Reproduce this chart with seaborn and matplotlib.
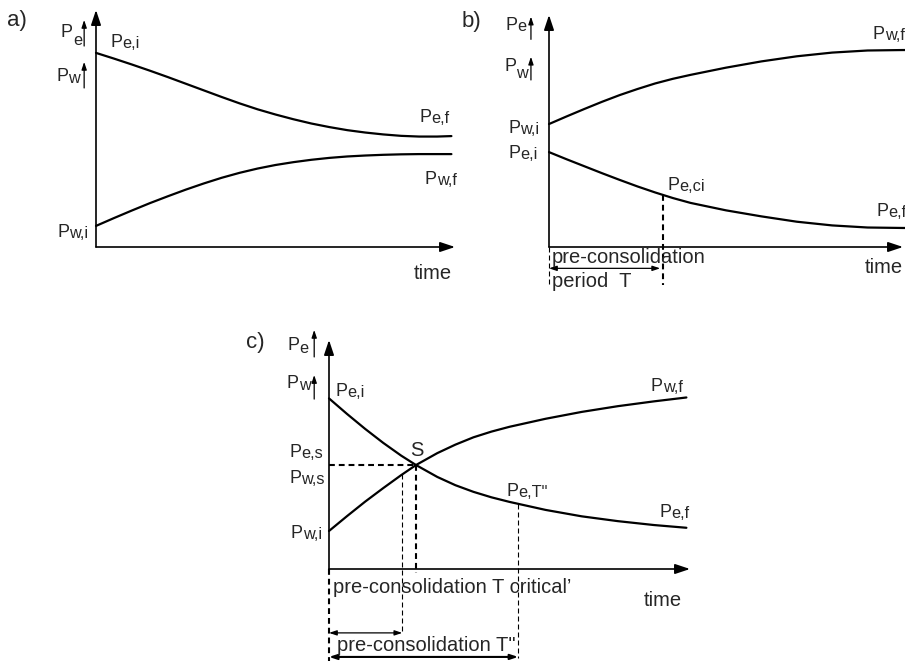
import numpy as np
import matplotlib
matplotlib.use("Agg")
import matplotlib.pyplot as plt
import matplotlib.transforms as mtransforms
import seaborn as sns

# ---- curves (time and pressure in arbitrary units, 0-10) ----
time_a = [0, 0.5, 1, 1.5, 2, 2.5, 3, 3.5, 4, 4.5, 5, 5.5, 6, 6.5, 7, 7.5, 8, 8.5, 9, 9.5, 9.9]
pe_a = [8.19, 7.95, 7.70, 7.44, 7.17, 6.89, 6.61, 6.33, 6.06, 5.81, 5.59, 5.39, 5.21,
        5.06, 4.93, 4.83, 4.75, 4.69, 4.66, 4.66, 4.68]
pw_a = [0.89, 1.22, 1.54, 1.85, 2.14, 2.42, 2.68, 2.92, 3.13, 3.31, 3.46, 3.58, 3.68,
        3.76, 3.82, 3.86, 3.89, 3.91, 3.92, 3.92, 3.92]

time_b = [0, 0.5, 1, 1.5, 2, 2.5, 3, 3.5, 4, 5, 6, 7, 8, 9, 10, 10.1]
pw_b = [5.30, 5.63, 5.95, 6.26, 6.55, 6.81, 7.05, 7.25, 7.42, 7.73, 8.00, 8.22, 8.38,
        8.47, 8.49, 8.49]
pe_b = [4.09, 3.78, 3.48, 3.18, 2.89, 2.61, 2.35, 2.11, 1.90, 1.58, 1.32, 1.09, 0.93,
        0.84, 0.82, 0.82]

time_c = [0, 0.5, 1, 1.5, 2, 2.41, 3, 3.5, 4, 4.5, 5, 6, 7, 8, 9, 9.9]
pe_c = [7.45, 6.77, 6.12, 5.51, 4.95, 4.54, 4.02, 3.66, 3.37, 3.13, 2.93, 2.58, 2.30,
        2.09, 1.92, 1.80]
pw_c = [1.66, 2.31, 2.94, 3.53, 4.10, 4.54, 5.06, 5.43, 5.75, 6.00, 6.21, 6.56, 6.86,
        7.11, 7.32, 7.49]

# marked times
t_ci = 3.22      # b) end of pre-consolidation period T
t_s = 2.41       # c) intersection S
t_short = 2.03   # c) short pre-consolidation
t_long = 5.24    # c) pre-consolidation T''

sns.set_style("white")
plt.rcParams["font.family"] = ["Liberation Sans", "DejaVu Sans"]

W, H = 905, 661
fig = plt.figure(figsize=(W / 100, H / 100), dpi=100)

LW = 1.6
TXT = 14.5
PSZ = 13


def add_panel(left, right, bottom, top):
    ax = fig.add_axes([left / W, 1 - bottom / H, (right - left) / W, (bottom - top) / H])
    axis_kw = dict(arrowstyle="-|>,head_length=0.9,head_width=0.3", color="black",
                   lw=1.2, shrinkA=0, shrinkB=0)
    ax.annotate("", xy=(1, 0), xytext=(0, 0), xycoords="axes fraction", arrowprops=axis_kw)
    ax.annotate("", xy=(0, 1), xytext=(0, 0), xycoords="axes fraction", arrowprops=axis_kw)
    return ax


def finish(ax):
    ax.set_xlim(0, 10)
    ax.set_ylim(0, 10)
    ax.axis("off")


def p_label(ax, t, v, sub, drop=0.8):
    ax.text(t, v, "P", fontsize=PSZ, ha="left", va="baseline")
    tr = mtransforms.offset_copy(ax.transData, fig=fig, x=0.667 * PSZ, y=-drop, units="points")
    ax.text(t, v, sub, fontsize=PSZ * 0.9, ha="left", va="baseline", transform=tr)


def small_arrow(ax, t, v0, v1):
    ax.annotate("", xy=(t, v1), xytext=(t, v0), xycoords="data", annotation_clip=False,
                arrowprops=dict(arrowstyle="-|>,head_length=0.45,head_width=0.15",
                                color="black", lw=0.9, shrinkA=0, shrinkB=0))


def span_arrow(ax, t0, t1, v, lw):
    ax.annotate("", xy=(t1, v), xytext=(t0, v), xycoords="data", annotation_clip=False,
                arrowprops=dict(arrowstyle="<|-|>,head_length=0.45,head_width=0.15",
                                color="black", lw=lw, shrinkA=0, shrinkB=0))


def curve(ax, t, p):
    sns.lineplot(x=t, y=p, ax=ax, color="black", linewidth=LW, clip_on=False)


thick_dash = dict(color="black", lw=1.5, linestyle=(0, (2.8, 1.9)), clip_on=False)
thin_dash = dict(color="black", lw=0.8, linestyle=(0, (4.5, 2.7)), clip_on=False)

# ================= a) =================
ax = add_panel(96, 455, 247, 10)
curve(ax, time_a, pe_a)
curve(ax, time_a, pw_a)
p_label(ax, -0.98, 8.86, "e", drop=5.5)
small_arrow(ax, -0.33, 8.48, 9.58)
p_label(ax, -1.11, 7.01, "w", drop=1.2)
small_arrow(ax, -0.33, 6.71, 7.81)
p_label(ax, 0.39, 8.45, "e,i")
p_label(ax, 9.00, 5.29, "e,f")
p_label(ax, 9.16, 2.66, "w,f")
p_label(ax, -1.08, 0.41, "w,i")
ax.text(8.84, -1.36, "time", fontsize=TXT, va="baseline")
finish(ax)
fig.text(6.7 / W, 1 - 26 / H, "a)", fontsize=16, va="baseline")

# ================= b) =================
ax = add_panel(549, 903, 247, 15)
curve(ax, time_b, pw_b)
curve(ax, time_b, pe_b)
p_label(ax, -1.24, 9.35, "e", drop=0.5)
small_arrow(ax, -0.51, 8.95, 9.93)
p_label(ax, -1.26, 7.60, "w", drop=5.5)
small_arrow(ax, -0.51, 7.20, 8.20)
p_label(ax, -1.15, 4.93, "w,i")
p_label(ax, -1.15, 3.82, "e,i")
p_label(ax, 3.34, 2.46, "e,ci")
p_label(ax, 9.14, 8.95, "w,f")
p_label(ax, 9.24, 1.34, "e,f")
pe_ci = np.interp(t_ci, time_b, pe_b)
ax.plot([t_ci, t_ci], [pe_ci, -1.64], **thick_dash)
ax.plot([0, 0], [0, -1.64], **thin_dash)
span_arrow(ax, 0, t_ci - 0.08, -0.92, 0.9)
ax.text(0.08, -0.70, "pre-consolidation", fontsize=TXT, va="baseline")
ax.text(0.08, -1.71, "period  T", fontsize=TXT, va="baseline")
ax.text(8.93, -1.13, "time", fontsize=TXT, va="baseline")
finish(ax)
fig.text(462 / W, 1 - 27 / H, "b)", fontsize=16, va="baseline")

# ================= c) =================
ax = add_panel(329, 690, 569, 340)
curve(ax, time_c, pe_c)
curve(ax, time_c, pw_c)
p_label(ax, -1.15, 9.56, "e", drop=2.0)
small_arrow(ax, -0.41, 9.26, 10.44)
p_label(ax, -1.17, 7.89, "w", drop=1.5)
small_arrow(ax, -0.41, 7.42, 8.47)
p_label(ax, 0.17, 7.55, "e,i")
p_label(ax, -1.10, 4.90, "e,s")
p_label(ax, -1.10, 3.74, "w,s")
p_label(ax, -1.06, 1.34, "w,i")
p_label(ax, 4.92, 3.19, 'e,T"')
p_label(ax, 8.91, 7.79, "w,f")
p_label(ax, 9.15, 2.28, "e,f")
ax.text(2.26, 4.95, "S", fontsize=TXT, va="baseline")

v_s = np.interp(t_s, time_c, pe_c)
ax.plot([0, t_s], [v_s, v_s], **thick_dash)
ax.plot([t_s, t_s], [v_s, -0.17], **thick_dash)
ax.plot([0, 0], [0, -4.05], **thick_dash)
pw_short = np.interp(t_short, time_c, pw_c)
ax.plot([t_short, t_short], [pw_short, -2.81], **thin_dash)
pe_long = np.interp(t_long, time_c, pe_c)
ax.plot([t_long, t_long], [pe_long, -3.89], **thin_dash)
span_arrow(ax, 0, t_short, -2.79, 0.9)
span_arrow(ax, 0, t_long, -3.84, 1.5)

ax.text(0.10, -1.03, "pre-consolidation T critical\u2019", fontsize=TXT, va="baseline")
ax.text(8.71, -1.62, "time", fontsize=TXT, va="baseline")
ax.text(0.23, -3.57, 'pre-consolidation T"', fontsize=TXT, va="baseline")
finish(ax)
fig.text(246 / W, 1 - 348 / H, "c)", fontsize=16, va="baseline")

fig.savefig("out.png", dpi=100)
